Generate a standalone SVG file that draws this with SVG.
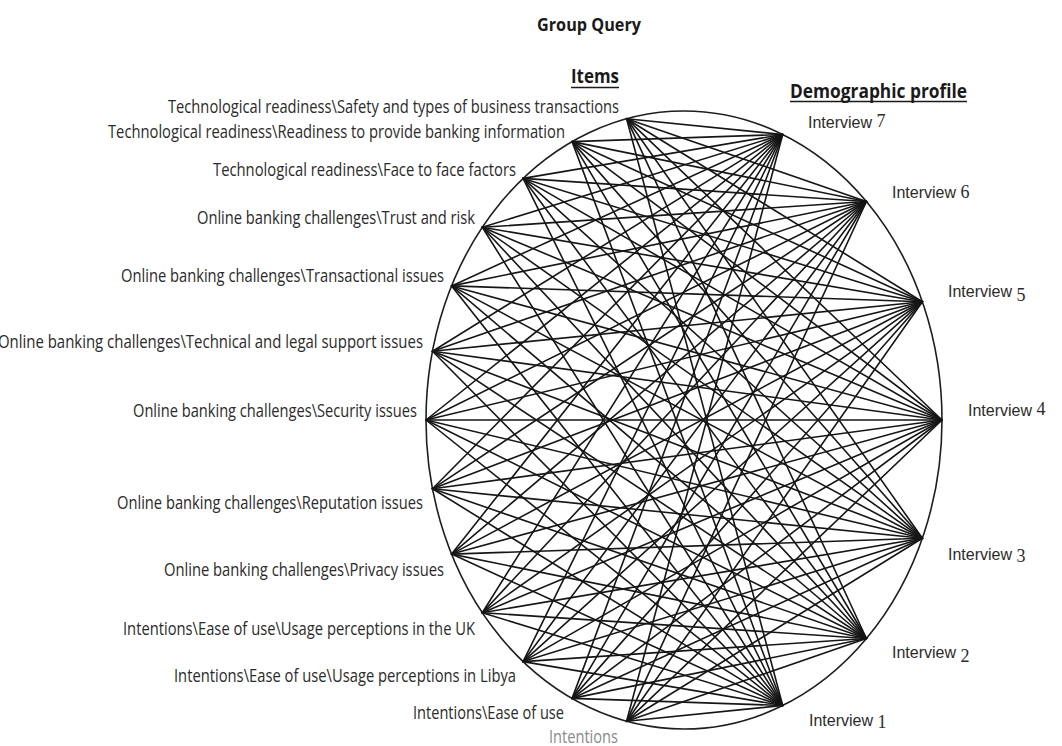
<svg xmlns="http://www.w3.org/2000/svg" width="1062" height="746" viewBox="0 0 1062 746">
  <style>
    .bg { fill: #ffffff; }
    .rim { fill: none; stroke: #1e1e1e; stroke-width: 1.6; }
    .edges line { stroke: #161616; stroke-width: 1.6; stroke-linecap: round; }
    .lbl { font-family: "Open Sans", "Noto Sans", "Liberation Sans", sans-serif; font-size: 18px; fill: #2b2b2b; }
    .ilbl { font-family: "Liberation Sans", "Open Sans", sans-serif; font-size: 16px; fill: #2b2b2b; }
    .muted { fill: #8a8a8a; }
    .num { font-family: "Liberation Serif", "DejaVu Serif", serif; font-size: 18px; fill: #2b2b2b; }
    .head { font-family: "Open Sans", "Noto Sans", "Liberation Sans", sans-serif; font-weight: 700; fill: #1a1a1a; }
    .rule { stroke: #1a1a1a; stroke-width: 1.5; }
  </style>

  <rect class="bg" x="0" y="0" width="1062" height="746"/>

  <!-- titles -->
  <g id="title">
    <text class="head" x="537" y="31" font-size="17" textLength="104" lengthAdjust="spacingAndGlyphs">Group Query</text>
  </g>
  <g id="header-items">
    <text class="head" x="571" y="83" font-size="19" textLength="48" lengthAdjust="spacingAndGlyphs">Items</text>
    <line class="rule" x1="571" y1="87.5" x2="619" y2="87.5"/>
  </g>
  <g id="header-demographic">
    <text class="head" x="790" y="98" font-size="19" textLength="177" lengthAdjust="spacingAndGlyphs">Demographic profile</text>
    <line class="rule" x1="790" y1="101.5" x2="967" y2="101.5"/>
  </g>

  <!-- bounding ellipse of the radial layout -->
  <ellipse class="rim" cx="684" cy="420" rx="258" ry="309"/>

  <!-- every item linked to every interview -->
  <g id="connectors" class="edges">
    <line x1="626.6" y1="118.7" x2="782.7" y2="134.5"/>
    <line x1="626.6" y1="118.7" x2="866.4" y2="201.5"/>
    <line x1="626.6" y1="118.7" x2="922.4" y2="301.7"/>
    <line x1="626.6" y1="118.7" x2="942" y2="420"/>
    <line x1="626.6" y1="118.7" x2="922.4" y2="538.3"/>
    <line x1="626.6" y1="118.7" x2="866.4" y2="638.5"/>
    <line x1="626.6" y1="118.7" x2="782.7" y2="705.5"/>

    <line x1="572.1" y1="141.6" x2="782.7" y2="134.5"/>
    <line x1="572.1" y1="141.6" x2="866.4" y2="201.5"/>
    <line x1="572.1" y1="141.6" x2="922.4" y2="301.7"/>
    <line x1="572.1" y1="141.6" x2="942" y2="420"/>
    <line x1="572.1" y1="141.6" x2="922.4" y2="538.3"/>
    <line x1="572.1" y1="141.6" x2="866.4" y2="638.5"/>
    <line x1="572.1" y1="141.6" x2="782.7" y2="705.5"/>

    <line x1="523.1" y1="178.4" x2="782.7" y2="134.5"/>
    <line x1="523.1" y1="178.4" x2="866.4" y2="201.5"/>
    <line x1="523.1" y1="178.4" x2="922.4" y2="301.7"/>
    <line x1="523.1" y1="178.4" x2="942" y2="420"/>
    <line x1="523.1" y1="178.4" x2="922.4" y2="538.3"/>
    <line x1="523.1" y1="178.4" x2="866.4" y2="638.5"/>
    <line x1="523.1" y1="178.4" x2="782.7" y2="705.5"/>

    <line x1="482.3" y1="227.3" x2="782.7" y2="134.5"/>
    <line x1="482.3" y1="227.3" x2="866.4" y2="201.5"/>
    <line x1="482.3" y1="227.3" x2="922.4" y2="301.7"/>
    <line x1="482.3" y1="227.3" x2="942" y2="420"/>
    <line x1="482.3" y1="227.3" x2="922.4" y2="538.3"/>
    <line x1="482.3" y1="227.3" x2="866.4" y2="638.5"/>
    <line x1="482.3" y1="227.3" x2="782.7" y2="705.5"/>

    <line x1="451.6" y1="285.9" x2="782.7" y2="134.5"/>
    <line x1="451.6" y1="285.9" x2="866.4" y2="201.5"/>
    <line x1="451.6" y1="285.9" x2="922.4" y2="301.7"/>
    <line x1="451.6" y1="285.9" x2="942" y2="420"/>
    <line x1="451.6" y1="285.9" x2="922.4" y2="538.3"/>
    <line x1="451.6" y1="285.9" x2="866.4" y2="638.5"/>
    <line x1="451.6" y1="285.9" x2="782.7" y2="705.5"/>

    <line x1="432.5" y1="351.2" x2="782.7" y2="134.5"/>
    <line x1="432.5" y1="351.2" x2="866.4" y2="201.5"/>
    <line x1="432.5" y1="351.2" x2="922.4" y2="301.7"/>
    <line x1="432.5" y1="351.2" x2="942" y2="420"/>
    <line x1="432.5" y1="351.2" x2="922.4" y2="538.3"/>
    <line x1="432.5" y1="351.2" x2="866.4" y2="638.5"/>
    <line x1="432.5" y1="351.2" x2="782.7" y2="705.5"/>

    <line x1="426" y1="420" x2="782.7" y2="134.5"/>
    <line x1="426" y1="420" x2="866.4" y2="201.5"/>
    <line x1="426" y1="420" x2="922.4" y2="301.7"/>
    <line x1="426" y1="420" x2="942" y2="420"/>
    <line x1="426" y1="420" x2="922.4" y2="538.3"/>
    <line x1="426" y1="420" x2="866.4" y2="638.5"/>
    <line x1="426" y1="420" x2="782.7" y2="705.5"/>

    <line x1="432.5" y1="488.8" x2="782.7" y2="134.5"/>
    <line x1="432.5" y1="488.8" x2="866.4" y2="201.5"/>
    <line x1="432.5" y1="488.8" x2="922.4" y2="301.7"/>
    <line x1="432.5" y1="488.8" x2="942" y2="420"/>
    <line x1="432.5" y1="488.8" x2="922.4" y2="538.3"/>
    <line x1="432.5" y1="488.8" x2="866.4" y2="638.5"/>
    <line x1="432.5" y1="488.8" x2="782.7" y2="705.5"/>

    <line x1="451.6" y1="554.1" x2="782.7" y2="134.5"/>
    <line x1="451.6" y1="554.1" x2="866.4" y2="201.5"/>
    <line x1="451.6" y1="554.1" x2="922.4" y2="301.7"/>
    <line x1="451.6" y1="554.1" x2="942" y2="420"/>
    <line x1="451.6" y1="554.1" x2="922.4" y2="538.3"/>
    <line x1="451.6" y1="554.1" x2="866.4" y2="638.5"/>
    <line x1="451.6" y1="554.1" x2="782.7" y2="705.5"/>

    <line x1="482.3" y1="612.7" x2="782.7" y2="134.5"/>
    <line x1="482.3" y1="612.7" x2="866.4" y2="201.5"/>
    <line x1="482.3" y1="612.7" x2="922.4" y2="301.7"/>
    <line x1="482.3" y1="612.7" x2="942" y2="420"/>
    <line x1="482.3" y1="612.7" x2="922.4" y2="538.3"/>
    <line x1="482.3" y1="612.7" x2="866.4" y2="638.5"/>
    <line x1="482.3" y1="612.7" x2="782.7" y2="705.5"/>

    <line x1="523.1" y1="661.6" x2="782.7" y2="134.5"/>
    <line x1="523.1" y1="661.6" x2="866.4" y2="201.5"/>
    <line x1="523.1" y1="661.6" x2="922.4" y2="301.7"/>
    <line x1="523.1" y1="661.6" x2="942" y2="420"/>
    <line x1="523.1" y1="661.6" x2="922.4" y2="538.3"/>
    <line x1="523.1" y1="661.6" x2="866.4" y2="638.5"/>
    <line x1="523.1" y1="661.6" x2="782.7" y2="705.5"/>

    <line x1="572.1" y1="698.4" x2="782.7" y2="134.5"/>
    <line x1="572.1" y1="698.4" x2="866.4" y2="201.5"/>
    <line x1="572.1" y1="698.4" x2="922.4" y2="301.7"/>
    <line x1="572.1" y1="698.4" x2="942" y2="420"/>
    <line x1="572.1" y1="698.4" x2="922.4" y2="538.3"/>
    <line x1="572.1" y1="698.4" x2="866.4" y2="638.5"/>
    <line x1="572.1" y1="698.4" x2="782.7" y2="705.5"/>

    <line x1="626.6" y1="721.3" x2="782.7" y2="134.5"/>
    <line x1="626.6" y1="721.3" x2="866.4" y2="201.5"/>
    <line x1="626.6" y1="721.3" x2="922.4" y2="301.7"/>
    <line x1="626.6" y1="721.3" x2="942" y2="420"/>
    <line x1="626.6" y1="721.3" x2="922.4" y2="538.3"/>
    <line x1="626.6" y1="721.3" x2="866.4" y2="638.5"/>
    <line x1="626.6" y1="721.3" x2="782.7" y2="705.5"/>
  </g>

  <!-- item nodes (left arc) -->
  <g id="item-safety"><text class="lbl" x="168" y="113" textLength="451" lengthAdjust="spacingAndGlyphs">Technological readiness\Safety and types of business transactions</text></g>
  <g id="item-readiness"><text class="lbl" x="108" y="138" textLength="457" lengthAdjust="spacingAndGlyphs">Technological readiness\Readiness to provide banking information</text></g>
  <g id="item-face"><text class="lbl" x="213" y="176" textLength="303" lengthAdjust="spacingAndGlyphs">Technological readiness\Face to face factors</text></g>
  <g id="item-trust"><text class="lbl" x="197" y="224" textLength="278" lengthAdjust="spacingAndGlyphs">Online banking challenges\Trust and risk</text></g>
  <g id="item-transactional"><text class="lbl" x="121" y="282" textLength="323" lengthAdjust="spacingAndGlyphs">Online banking challenges\Transactional issues</text></g>
  <g id="item-technical"><text class="lbl" x="-2" y="348" textLength="425" lengthAdjust="spacingAndGlyphs">Online banking challenges\Technical and legal support issues</text></g>
  <g id="item-security"><text class="lbl" x="133" y="417" textLength="284" lengthAdjust="spacingAndGlyphs">Online banking challenges\Security issues</text></g>
  <g id="item-reputation"><text class="lbl" x="117" y="509" textLength="306" lengthAdjust="spacingAndGlyphs">Online banking challenges\Reputation issues</text></g>
  <g id="item-privacy"><text class="lbl" x="164" y="576" textLength="280" lengthAdjust="spacingAndGlyphs">Online banking challenges\Privacy issues</text></g>
  <g id="item-usage-uk"><text class="lbl" x="123" y="635" textLength="352" lengthAdjust="spacingAndGlyphs">Intentions\Ease of use\Usage perceptions in the UK</text></g>
  <g id="item-usage-libya"><text class="lbl" x="174" y="682" textLength="342" lengthAdjust="spacingAndGlyphs">Intentions\Ease of use\Usage perceptions in Libya</text></g>
  <g id="item-ease"><text class="lbl" x="413" y="719" textLength="151" lengthAdjust="spacingAndGlyphs">Intentions\Ease of use</text></g>
  <g id="item-intentions"><text class="lbl muted" x="549" y="743" textLength="69" lengthAdjust="spacingAndGlyphs">Intentions</text></g>

  <!-- interview nodes (right arc); the number is set in a serif face -->
  <g id="interview-7"><text class="ilbl" x="808" y="128">Interview <tspan class="num" dy="-1">7</tspan></text></g>
  <g id="interview-6"><text class="ilbl" x="892" y="198">Interview <tspan class="num">6</tspan></text></g>
  <g id="interview-5"><text class="ilbl" x="948" y="297">Interview <tspan class="num" dy="4">5</tspan></text></g>
  <g id="interview-4"><text class="ilbl" x="968" y="416">Interview <tspan class="num" dy="-1">4</tspan></text></g>
  <g id="interview-3"><text class="ilbl" x="948" y="560">Interview <tspan class="num" dy="2">3</tspan></text></g>
  <g id="interview-2"><text class="ilbl" x="892" y="658">Interview <tspan class="num" dy="4">2</tspan></text></g>
  <g id="interview-1"><text class="ilbl" x="809" y="726">Interview <tspan class="num" dy="2">1</tspan></text></g>
</svg>
